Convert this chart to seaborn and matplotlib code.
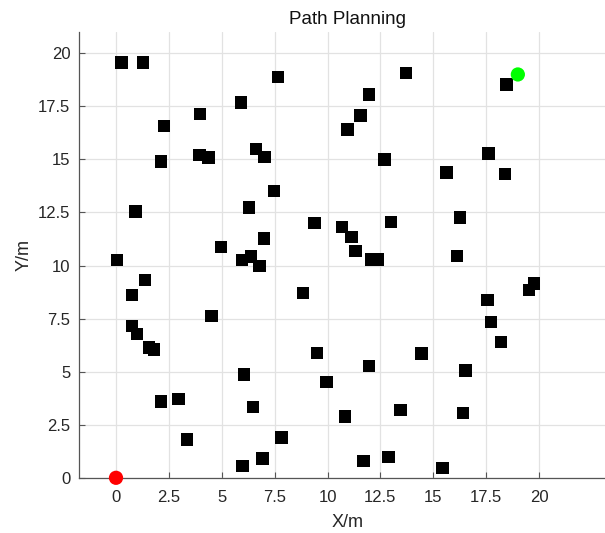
import matplotlib
matplotlib.use("Agg")
import matplotlib.pyplot as plt
import seaborn as sns
import pandas as pd
from matplotlib.ticker import FuncFormatter

# Obstacles (X/m, Y/m)
obs_x = [0.27, 1.28, 7.67, 5.91, 3.97, 2.27, 3.94, 4.37, 2.13, 6.62, 7.03, 7.47, 6.29, 0.93,
         9.39, 10.69, 7.00, 4.96, 0.06, 5.97, 6.37, 6.78, 0.77, 1.36, 4.52, 8.83, 0.77, 0.99,
         1.56, 1.81, 9.49, 6.04, 9.96, 2.14, 2.95, 6.49, 3.37, 7.83, 6.92, 5.99, 11.14, 11.33,
         12.07, 12.36, 16.11, 19.76, 19.54, 17.57, 17.73, 18.19, 14.44, 11.96, 16.52, 13.46,
         10.84, 16.42, 12.89, 11.71, 15.43, 13.71, 11.95, 11.57, 10.95, 12.69, 15.63, 17.62,
         18.38, 13.00, 16.26, 18.47]
obs_y = [19.57, 19.57, 18.88, 17.68, 17.13, 16.57, 15.20, 15.08, 14.89, 15.49, 15.11, 13.50,
         12.74, 12.54, 11.99, 11.82, 11.28, 10.88, 10.26, 10.26, 10.42, 9.97, 8.62, 9.31, 7.63,
         8.71, 7.16, 6.78, 6.14, 6.05, 5.89, 4.87, 4.51, 3.60, 3.71, 3.33, 1.81, 1.89, 0.90,
         0.56, 11.33, 10.69, 10.28, 10.28, 10.45, 9.15, 8.84, 8.37, 7.33, 6.41, 5.86, 5.28,
         5.06, 3.20, 2.88, 3.06, 0.99, 0.78, 0.45, 19.06, 18.06, 17.07, 16.40, 14.99, 14.38,
         15.27, 14.30, 12.05, 12.27, 18.52]

start_xy = [0.0, 0.0]
goal_xy = [19.0, 19.0]

x_ticks = [0, 2.5, 5, 7.5, 10, 12.5, 15, 17.5, 20]
y_ticks = [0, 2.5, 5, 7.5, 10, 12.5, 15, 17.5, 20]

sns.set_theme(style="white")
plt.rcParams['font.family'] = ['Liberation Sans', 'DejaVu Sans']

fig = plt.figure(figsize=(6.05, 5.33), dpi=100)
ax = fig.add_axes([78.7 / 605, 1 - 477.8 / 533, (617 - 78.7) / 605, (477.8 - 32) / 533])

obs = pd.DataFrame({"x": obs_x, "y": obs_y})
sns.scatterplot(data=obs, x="x", y="y", marker="s", s=80, color="black",
                edgecolor="none", linewidth=0, ax=ax, zorder=3, clip_on=False)
sns.scatterplot(x=[start_xy[0]], y=[start_xy[1]], marker="o", s=105, color="#ff0000",
                edgecolor="none", linewidth=0, ax=ax, zorder=4, clip_on=False)
sns.scatterplot(x=[goal_xy[0]], y=[goal_xy[1]], marker="o", s=105, color="#00ff00",
                edgecolor="none", linewidth=0, ax=ax, zorder=4, clip_on=False)

ax.set_xlim((78.7 - 116) / 21.15, (617 - 116) / 21.15)
ax.set_ylim(0, 21)
ax.set_xticks(x_ticks)
ax.set_yticks(y_ticks)
fmt = FuncFormatter(lambda v, p: ("%g" % v))
ax.xaxis.set_major_formatter(fmt)
ax.yaxis.set_major_formatter(fmt)

ax.grid(True, color="#e2e2e2", linewidth=0.9)
ax.set_axisbelow(True)
for s in ["top", "right"]:
    ax.spines[s].set_visible(False)
for s in ["left", "bottom"]:
    ax.spines[s].set_color("#555555")
    ax.spines[s].set_linewidth(0.9)

ax.tick_params(axis="both", direction="in", length=4, width=0.8, color="#555555",
               labelsize=12, labelcolor="#262626", left=True, bottom=True)
ax.tick_params(axis="x", pad=9)
ax.tick_params(axis="y", pad=6)

ax.set_xlabel("X/m", fontsize=13, color="#262626", labelpad=6)
ax.set_ylabel("Y/m", fontsize=13, color="#262626", labelpad=4)
ax.set_title("Path Planning", fontsize=13.5, color="#111111", pad=6)

fig.savefig("out.png", dpi=100)
